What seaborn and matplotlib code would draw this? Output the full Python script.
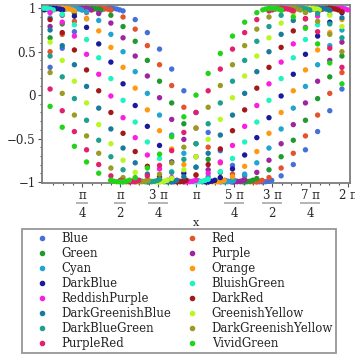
import numpy as np
import pandas as pd
import seaborn as sns
import matplotlib.pyplot as plt
from matplotlib.lines import Line2D
from matplotlib.transforms import blended_transform_factory, offset_copy

names = ['Blue', 'Red', 'Green', 'Purple', 'Cyan', 'Orange', 'DarkBlue', 'BluishGreen',
         'ReddishPurple', 'DarkRed', 'DarkGreenishBlue', 'GreenishYellow', 'DarkBlueGreen',
         'DarkGreenishYellow', 'PurpleRed', 'VividGreen']
colors = ['#4570d9', '#e4532a', '#1f9a2e', '#9e24a0', '#20a4d4', '#ff9a10', '#1b1a9c', '#1ff3c0',
          '#fa1ee0', '#a31818', '#1a7a9e', '#b8f820', '#1ea08e', '#9a9a24', '#e2206e', '#22d418']

# sample positions shared by all series
x_grid = [0.1257, 0.3770, 0.6283, 0.8796, 1.1310, 1.3823, 1.6336, 1.8850, 2.1363, 2.3876,
          2.6389, 2.8903, 3.1416, 3.3929, 3.6442, 3.8956, 4.1469, 4.3982, 4.6496, 4.9009,
          5.1522, 5.4035, 5.6549, 5.9062, 6.1575]

blue = [0.32, 0.54, 0.73, 0.88, 0.97, 1.00, 0.97, 0.87, 0.72, 0.53, 0.30, 0.05, -0.20,
        -0.43, -0.64, -0.81, -0.93, -0.99, -0.99, -0.93, -0.80, -0.63, -0.42, -0.18, 0.07]
red = [0.50, 0.70, 0.85, 0.95, 1.00, 0.98, 0.90, 0.76, 0.57, 0.35, 0.11, -0.14, -0.38,
       -0.60, -0.78, -0.91, -0.98, -1.00, -0.95, -0.84, -0.67, -0.47, -0.23, 0.02, 0.26]
green = [0.66, 0.82, 0.94, 0.99, 0.99, 0.92, 0.79, 0.62, 0.40, 0.16, -0.09, -0.33, -0.56,
         -0.74, -0.89, -0.97, -1.00, -0.96, -0.86, -0.71, -0.52, -0.29, -0.04, 0.21, 0.45]
purple = [0.79, 0.92, 0.99, 1.00, 0.94, 0.83, 0.66, 0.45, 0.22, -0.03, -0.28, -0.51, -0.71,
          -0.86, -0.96, -1.00, -0.98, -0.89, -0.75, -0.56, -0.34, -0.09, 0.16, 0.40, 0.61]
cyan = [0.89, 0.98, 1.00, 0.96, 0.86, 0.70, 0.50, 0.27, 0.02, -0.23, -0.46, -0.67, -0.83,
        -0.94, -1.00, -0.99, -0.91, -0.78, -0.61, -0.39, -0.15, 0.10, 0.35, 0.57, 0.75]
orange = [0.96, 1.00, 0.97, 0.88, 0.74, 0.55, 0.32, 0.08, -0.17, -0.41, -0.62, -0.80, -0.92,
          -0.99, -0.99, -0.94, -0.82, -0.65, -0.44, -0.20, 0.05, 0.29, 0.52, 0.72, 0.87]
dark_blue = [1.00, 0.98, 0.91, 0.78, 0.59, 0.38, 0.13, -0.12, -0.36, -0.58, -0.77, -0.90, -0.98,
             -1.00, -0.95, -0.85, -0.69, -0.49, -0.26, -0.01, 0.24, 0.47, 0.68, 0.84, 0.95]
bluish_green = [0.99, 0.93, 0.81, 0.64, 0.43, 0.19, -0.06, -0.31, -0.54, -0.73, -0.88, -0.97, -1.00,
                -0.97, -0.88, -0.73, -0.54, -0.31, -0.06, 0.19, 0.43, 0.64, 0.81, 0.93, 0.99]
reddish_purple = [0.95, 0.84, 0.68, 0.47, 0.24, -0.01, -0.26, -0.49, -0.69, -0.85, -0.95, -1.00, -0.98,
                  -0.90, -0.77, -0.58, -0.36, -0.12, 0.13, 0.38, 0.59, 0.78, 0.91, 0.98, 1.00]
dark_red = [0.87, 0.72, 0.52, 0.29, 0.05, -0.20, -0.44, -0.65, -0.82, -0.94, -0.99, -0.99, -0.92,
            -0.80, -0.62, -0.41, -0.17, 0.08, 0.32, 0.55, 0.74, 0.88, 0.97, 1.00, 0.96]
dark_greenish_blue = [0.75, 0.57, 0.35, 0.10, -0.15, -0.39, -0.61, -0.78, -0.91, -0.99, -1.00, -0.94, -0.83,
                      -0.67, -0.46, -0.23, 0.02, 0.27, 0.50, 0.70, 0.86, 0.96, 1.00, 0.98, 0.89]
greenish_yellow = [0.61, 0.40, 0.16, -0.09, -0.34, -0.56, -0.75, -0.89, -0.98, -1.00, -0.96, -0.86, -0.71,
                   -0.51, -0.28, -0.03, 0.22, 0.45, 0.66, 0.83, 0.94, 1.00, 0.99, 0.92, 0.79]
dark_blue_green = [0.45, 0.21, -0.04, -0.29, -0.52, -0.71, -0.86, -0.96, -1.00, -0.97, -0.89, -0.74, -0.56,
                   -0.33, -0.09, 0.16, 0.40, 0.62, 0.79, 0.92, 0.99, 0.99, 0.94, 0.82, 0.66]
dark_greenish_yellow = [0.26, 0.02, -0.23, -0.47, -0.67, -0.84, -0.95, -1.00, -0.98, -0.91, -0.78, -0.60, -0.38,
                        -0.14, 0.11, 0.35, 0.57, 0.76, 0.90, 0.98, 1.00, 0.95, 0.85, 0.70, 0.50]
purple_red = [0.07, -0.18, -0.42, -0.63, -0.80, -0.93, -0.99, -0.99, -0.93, -0.81, -0.64, -0.43, -0.20,
              0.05, 0.30, 0.53, 0.72, 0.87, 0.97, 1.00, 0.97, 0.88, 0.73, 0.54, 0.32]
vivid_green = [-0.13, -0.37, -0.59, -0.77, -0.90, -0.98, -1.00, -0.95, -0.84, -0.68, -0.48, -0.25, 0.00,
               0.25, 0.48, 0.68, 0.84, 0.95, 1.00, 0.98, 0.90, 0.77, 0.59, 0.37, 0.13]

series_values = [blue, red, green, purple, cyan, orange, dark_blue, bluish_green,
                 reddish_purple, dark_red, dark_greenish_blue, greenish_yellow, dark_blue_green,
                 dark_greenish_yellow, purple_red, vivid_green]

# extra (refined) samples crowding the top / bottom edges
peak_x = [1.374, 1.178, 0.982, 0.785, 0.589, 0.393, 0.196, 0.0,
          6.087, 5.890, 5.694, 5.498, 5.301, 5.105, 4.909, 4.712]
trough_x = [4.516, 4.320, 4.123, 3.927, 3.731, 3.534, 3.338, 3.142,
            2.945, 2.749, 2.553, 2.356, 2.160, 1.963, 1.767, 1.571]
refine_offsets = [-0.19, -0.13, -0.065, 0.0, 0.065, 0.13, 0.19]
refine_levels = [0.982, 0.992, 0.998, 1.0, 0.998, 0.992, 0.982]

rows = []
for name, vals, px, tx in zip(names, series_values, peak_x, trough_x):
    for x, y in zip(x_grid, vals):
        rows.append((name, x, y))
    for off, lev in zip(refine_offsets, refine_levels):
        rows.append((name, (px + off) % (2 * np.pi), lev))
        rows.append((name, (tx + off) % (2 * np.pi), -lev))
df = pd.DataFrame(rows, columns=['series', 'x', 'y'])

sns.set_theme(style='white')
plt.rcParams['font.family'] = ['DejaVu Serif']
plt.rcParams['axes.unicode_minus'] = True
FS = 8.5

W = 355.0
fig = plt.figure(figsize=(3.55, 3.55), dpi=100)
ax = fig.add_axes([41.7 / W, 1 - 182.7 / W, (350 - 41.7) / W, (182.7 - 5.3) / W])

sns.scatterplot(data=df, x='x', y='y', hue='series', hue_order=names, palette=colors,
                s=15, linewidth=0, legend=False, ax=ax, clip_on=False, zorder=3)

ax.set_xlim(-0.0475, 2 * np.pi + 0.041)
ax.set_ylim(-1.009, 1.0346)

for sp in ax.spines.values():
    sp.set_color('#7c7c7c')
    sp.set_linewidth(1.3)

ax.set_yticks([-1, -0.5, 0, 0.5, 1])
ax.set_yticklabels(['\u22121', '\u22120.5', '0', '0.5', '1'])
ax.set_yticks(np.arange(-1, 1.001, 0.1), minor=True)
ax.set_xticks([np.pi / 4 * k for k in range(1, 9)])
ax.set_xticklabels([''] * 8)
ax.set_xticks([np.pi / 16 * k for k in range(1, 33)], minor=True)
ax.tick_params(which='both', bottom=True, left=True, direction='out', color='#555555', width=0.8)
ax.tick_params(which='major', length=3, labelsize=FS, pad=1.2)
ax.tick_params(which='minor', length=1.6)

# pi fraction tick labels
tick_num = ['\u03c0', '\u03c0', '3 \u03c0', '\u03c0', '5 \u03c0', '3 \u03c0', '7 \u03c0', '2 \u03c0']
tick_den = ['4', '2', '4', '', '4', '2', '4', '']
trans = blended_transform_factory(ax.transData, ax.transAxes)
bar_trans = offset_copy(trans, fig=fig, y=-14.8, units='points')
for k, (num, den) in enumerate(zip(tick_num, tick_den)):
    pos = np.pi / 4 * (k + 1)
    ax.annotate(num, xy=(pos, 0), xycoords=trans, xytext=(0, -8.9), textcoords='offset points',
                ha='center', va='center', fontsize=FS, annotation_clip=False)
    if den:
        hw = 0.12 if len(num) == 1 else 0.21
        ax.plot([pos - hw, pos + hw], [0, 0], transform=bar_trans, color='#b4b4b4',
                lw=1.4, clip_on=False, solid_capstyle='butt')
        ax.annotate(den, xy=(pos, 0), xycoords=trans, xytext=(0, -22), textcoords='offset points',
                    ha='center', va='center', fontsize=FS, annotation_clip=False)

ax.set_xlabel('x', fontsize=8)
ax.set_ylabel('')
ax.xaxis.label.set_va('center')
ax.xaxis.set_label_coords(0.5, -40.6 / 177.4)

order = [0, 2, 4, 6, 8, 10, 12, 14, 1, 3, 5, 7, 9, 11, 13, 15]
handles = [Line2D([], [], marker='o', ls='', color=colors[i], markersize=3) for i in order]
labels = [names[i] for i in order]
leg = fig.legend(handles, labels, loc='upper left', ncol=2, mode='expand',
                 bbox_to_anchor=(21.7 / W, 1 - 229 / W, (336 - 21.7) / W, 0),
                 borderaxespad=0, borderpad=0.24, handlelength=3.0, handletextpad=0.14,
                 labelspacing=0.17, columnspacing=0, fontsize=FS, frameon=True, fancybox=False)
leg.get_frame().set_edgecolor('#7c7c7c')
leg.get_frame().set_linewidth(1.3)

fig.savefig('out.png', dpi=100)
